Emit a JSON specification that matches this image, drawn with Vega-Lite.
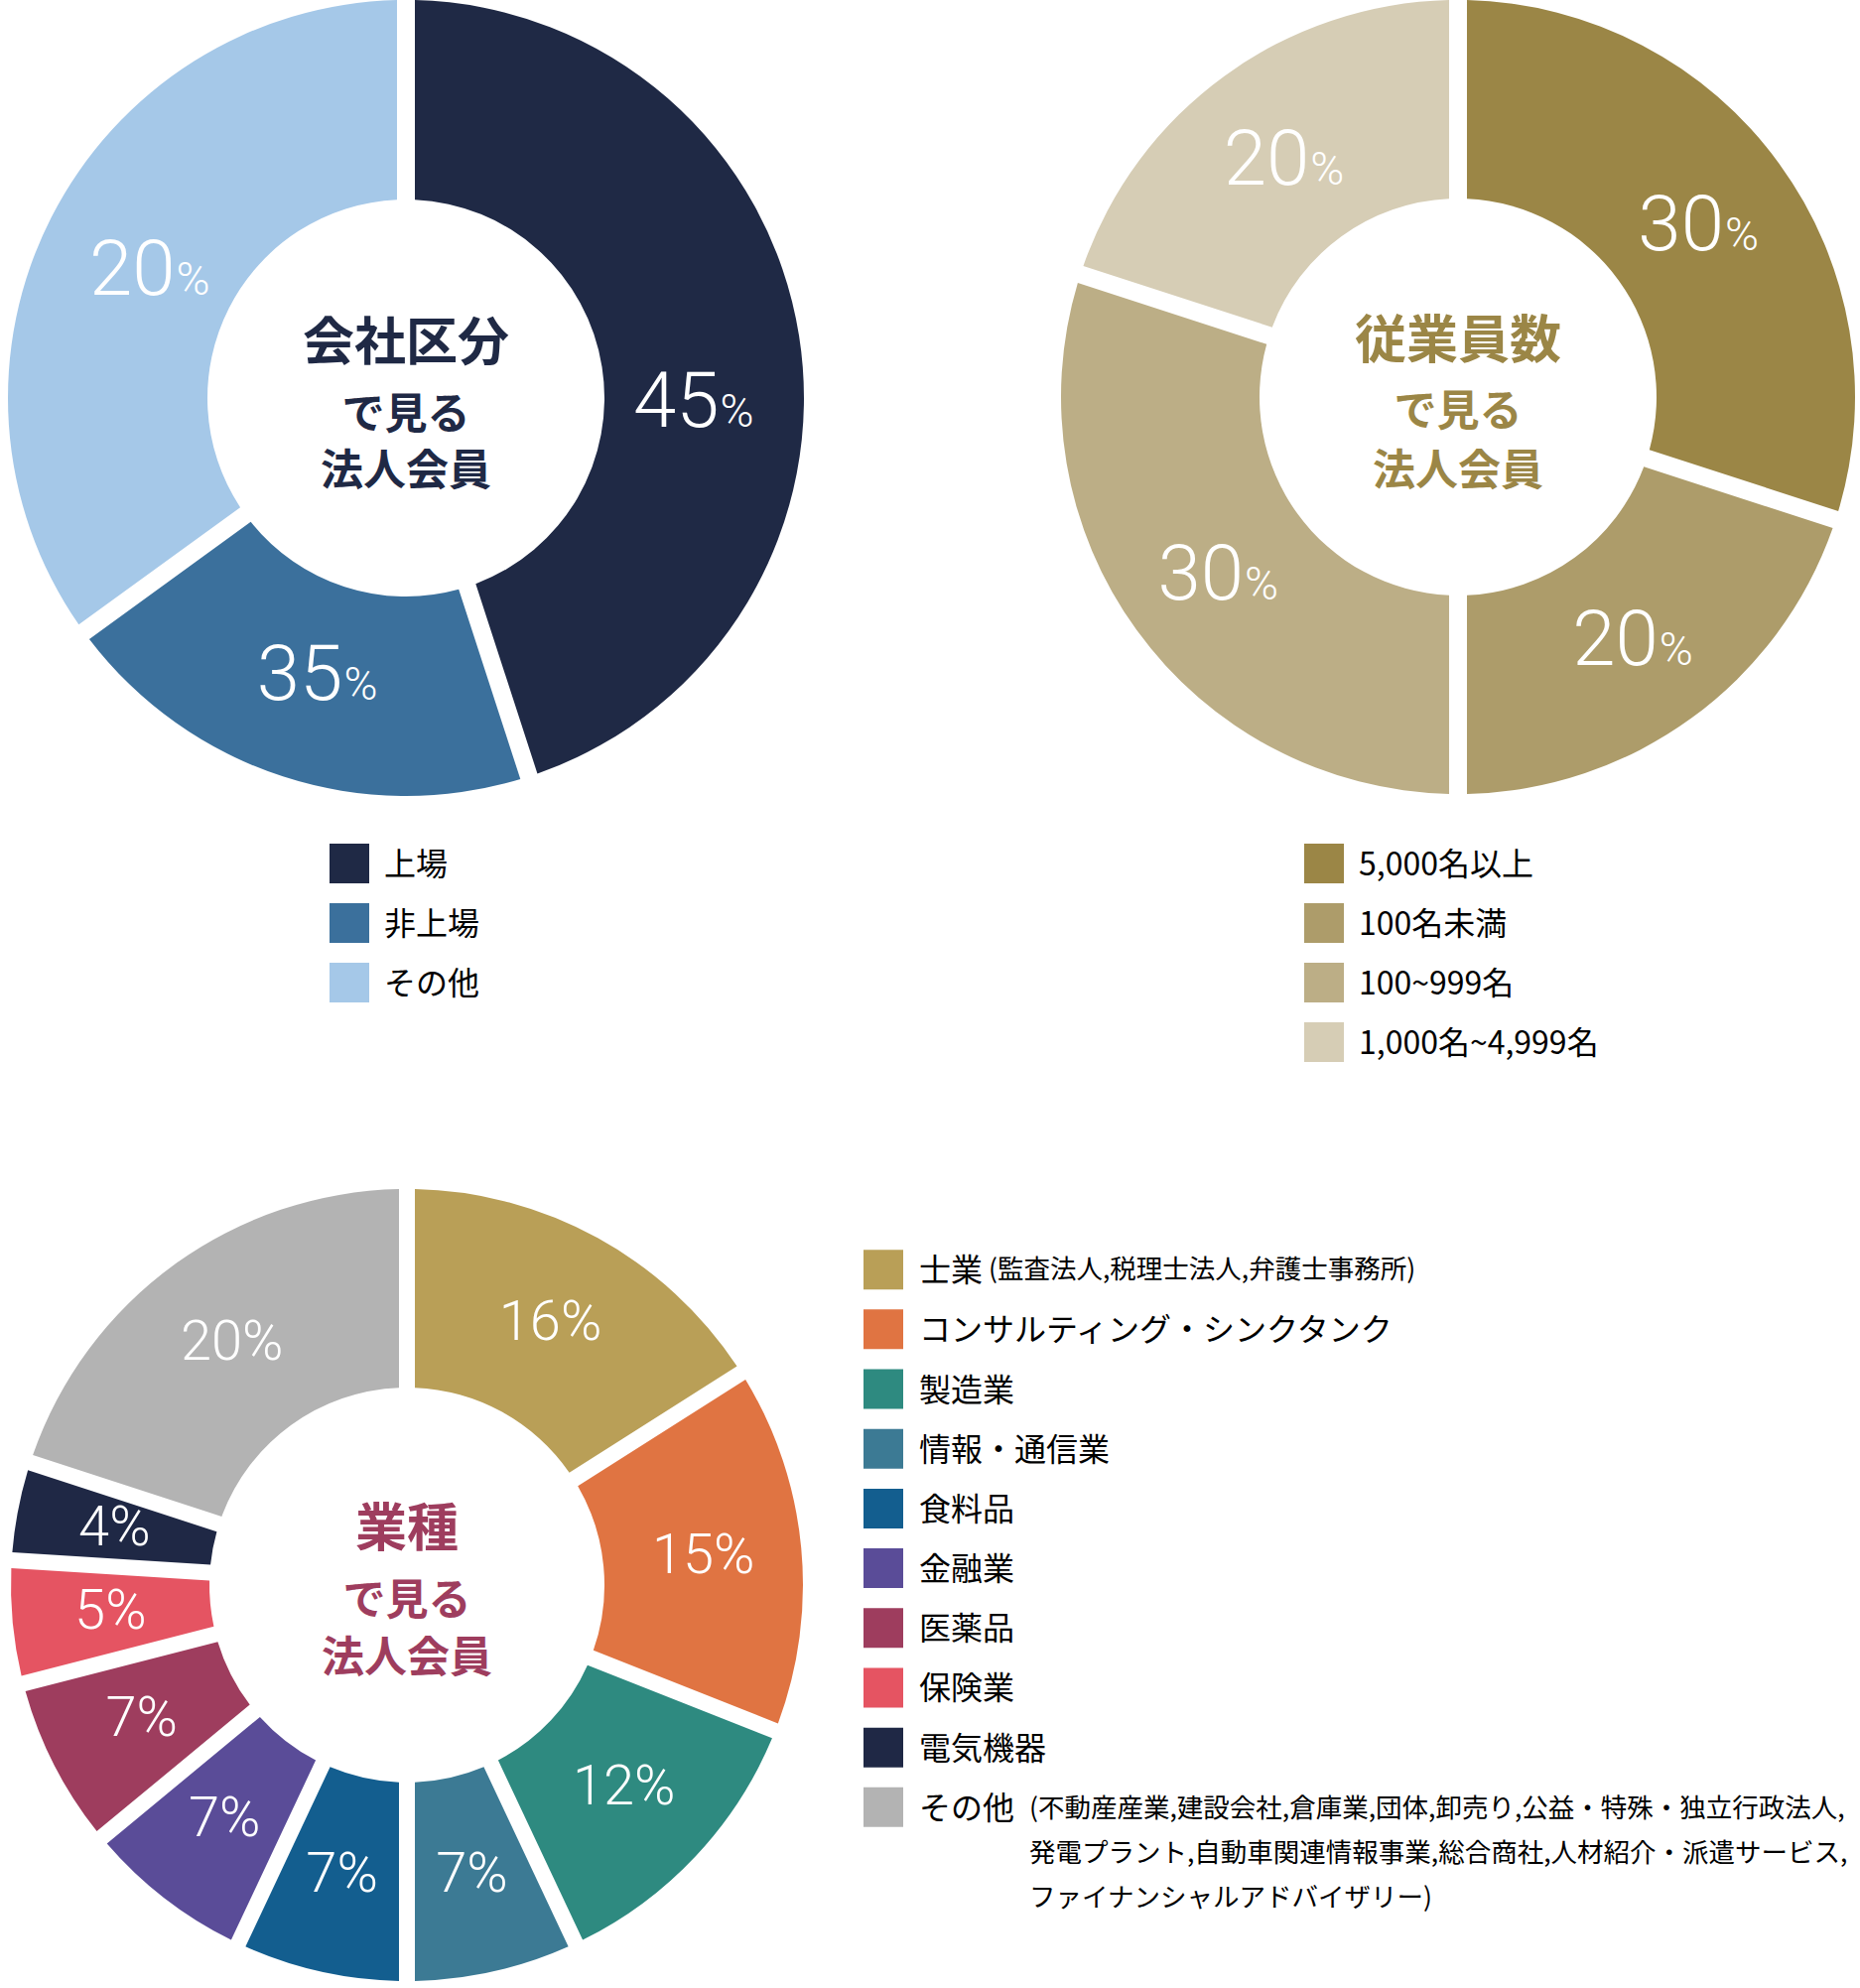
{
  "$schema": "https://vega.github.io/schema/vega-lite/v6.json",
  "padding": 0,
  "background": "#ffffff",
  "config": {
    "view": {"stroke": null},
    "font": "Noto Sans CJK JP"
  },
  "datasets": {
    "company": [
      {"idx": 1, "cat": "上場", "share": 45, "pct": "45"},
      {"idx": 2, "cat": "非上場", "share": 20, "pct": "35"},
      {"idx": 3, "cat": "その他", "share": 35, "pct": "20"}
    ],
    "employees": [
      {"idx": 1, "cat": "5,000名以上", "share": 30, "pct": "30"},
      {"idx": 2, "cat": "100名未満", "share": 20, "pct": "20"},
      {"idx": 3, "cat": "100~999名", "share": 30, "pct": "30"},
      {"idx": 4, "cat": "1,000名~4,999名", "share": 20, "pct": "20"}
    ],
    "industry": [
      {"idx": 1, "cat": "士業", "share": 16, "label": "16%", "note": "(監査法人,税理士法人,弁護士事務所)"},
      {"idx": 2, "cat": "コンサルティング・シンクタンク", "share": 15, "label": "15%", "note": ""},
      {"idx": 3, "cat": "製造業", "share": 12, "label": "12%", "note": ""},
      {"idx": 4, "cat": "情報・通信業", "share": 7, "label": "7%", "note": ""},
      {"idx": 5, "cat": "食料品", "share": 7, "label": "7%", "note": ""},
      {"idx": 6, "cat": "金融業", "share": 7, "label": "7%", "note": ""},
      {"idx": 7, "cat": "医薬品", "share": 7, "label": "7%", "note": ""},
      {"idx": 8, "cat": "保険業", "share": 5, "label": "5%", "note": ""},
      {"idx": 9, "cat": "電気機器", "share": 4, "label": "4%", "note": ""},
      {"idx": 10, "cat": "その他", "share": 20, "label": "20%", "note": "(不動産産業,建設会社,倉庫業,団体,卸売り,公益・特殊・独立行政法人,\n発電プラント,自動車関連情報事業,総合商社,人材紹介・派遣サービス,\nファイナンシャルアドバイザリー)"}
    ]
  },
  "spacing": 118,
  "resolve": {"scale": {"color": "independent", "theta": "independent"}},
  "vconcat": [
    {
      "spacing": 246,
      "resolve": {"scale": {"color": "independent", "theta": "independent"}},
      "hconcat": [
        {
          "spacing": 38,
          "vconcat": [
            {
              "width": 818,
              "height": 802,
              "data": {"name": "company"},
              "layer": [
                {
                  "mark": {"type": "arc", "innerRadius": 200, "outerRadius": 401, "padAngle": 0.0402},
                  "encoding": {
                    "theta": {"field": "share", "type": "quantitative", "stack": true},
                    "order": {"field": "idx", "type": "quantitative"},
                    "color": {"field": "cat", "type": "nominal", "legend": null,
                      "scale": {"domain": ["上場", "非上場", "その他"], "range": ["#1f2945", "#3b709c", "#a5c8e8"]}}
                  }
                },
                {
                  "mark": {"type": "text", "radius": 290, "align": "right", "baseline": "alphabetic", "dx": 26, "dy": 28, "fontSize": 78, "fontWeight": 300, "font": "Roboto", "fill": "#ffffff"},
                  "encoding": {
                    "theta": {"field": "share", "type": "quantitative", "stack": true},
                    "order": {"field": "idx", "type": "quantitative"},
                    "detail": {"field": "cat", "type": "nominal"},
                    "text": {"field": "pct", "type": "nominal"},
                    "opacity": {"condition": {"test": "datum.idx == 1", "value": 0}, "value": 1}
                  }
                },
                {
                  "mark": {"type": "text", "radius": 290, "align": "left", "baseline": "alphabetic", "dx": 27, "dy": 28, "fontSize": 46, "fontWeight": 300, "font": "Roboto", "fill": "#ffffff"},
                  "encoding": {
                    "theta": {"field": "share", "type": "quantitative", "stack": true},
                    "order": {"field": "idx", "type": "quantitative"},
                    "detail": {"field": "cat", "type": "nominal"},
                    "text": {"value": "%"},
                    "opacity": {"condition": {"test": "datum.idx == 1", "value": 0}, "value": 1}
                  }
                },
                {
                  "mark": {"type": "text", "radius": 290, "align": "right", "baseline": "alphabetic", "dx": 29, "dy": 74.5, "fontSize": 78, "fontWeight": 300, "font": "Roboto", "fill": "#ffffff"},
                  "encoding": {
                    "theta": {"field": "share", "type": "quantitative", "stack": true},
                    "order": {"field": "idx", "type": "quantitative"},
                    "detail": {"field": "cat", "type": "nominal"},
                    "text": {"field": "pct", "type": "nominal"},
                    "opacity": {"condition": {"test": "datum.idx == 1", "value": 1}, "value": 0}
                  }
                },
                {
                  "mark": {"type": "text", "radius": 290, "align": "left", "baseline": "alphabetic", "dx": 30, "dy": 74.5, "fontSize": 46, "fontWeight": 300, "font": "Roboto", "fill": "#ffffff"},
                  "encoding": {
                    "theta": {"field": "share", "type": "quantitative", "stack": true},
                    "order": {"field": "idx", "type": "quantitative"},
                    "detail": {"field": "cat", "type": "nominal"},
                    "text": {"value": "%"},
                    "opacity": {"condition": {"test": "datum.idx == 1", "value": 1}, "value": 0}
                  }
                },
                {
                  "data": {"values": [{"t1": "会社区分", "t2": "で見る", "t3": "法人会員"}]},
                  "layer": [
                    {"mark": {"type": "text", "fontSize": 52, "fontWeight": "bold", "fill": "#1f2945", "baseline": "middle", "dy": -54}, "encoding": {"text": {"field": "t1", "type": "nominal"}}},
                    {"mark": {"type": "text", "fontSize": 43, "fontWeight": "bold", "fill": "#1f2945", "baseline": "middle", "dy": 18}, "encoding": {"text": {"field": "t2", "type": "nominal"}}},
                    {"mark": {"type": "text", "fontSize": 43, "fontWeight": "bold", "fill": "#1f2945", "baseline": "middle", "dy": 75}, "encoding": {"text": {"field": "t3", "type": "nominal"}}}
                  ]
                }
              ]
            },
            {
              "width": 704,
              "height": 180,
              "data": {"name": "company"},
              "encoding": {
                "y": {"field": "cat", "type": "nominal", "sort": ["上場", "非上場", "その他"], "axis": null, "scale": {"type": "point", "padding": 0.5}}
              },
              "layer": [
                {
                  "mark": {"type": "point", "shape": "square", "filled": true, "size": 1600, "opacity": 1},
                  "encoding": {
                    "color": {"field": "cat", "type": "nominal", "legend": null,
                      "scale": {"domain": ["上場", "非上場", "その他"], "range": ["#1f2945", "#3b709c", "#a5c8e8"]}}
                  }
                },
                {
                  "mark": {"type": "text", "align": "left", "baseline": "middle", "dx": 35, "dy": 2, "fontSize": 32, "fill": "#000000"},
                  "encoding": {"text": {"field": "cat", "type": "nominal"}}
                }
              ]
            }
          ]
        },
        {
          "spacing": 40,
          "vconcat": [
            {
              "width": 810,
              "height": 800,
              "data": {"name": "employees"},
              "layer": [
                {
                  "mark": {"type": "arc", "innerRadius": 200, "outerRadius": 400, "padAngle": 0.0402},
                  "encoding": {
                    "theta": {"field": "share", "type": "quantitative", "stack": true},
                    "order": {"field": "idx", "type": "quantitative"},
                    "color": {"field": "cat", "type": "nominal", "legend": null,
                      "scale": {"domain": ["5,000名以上", "100名未満", "100~999名", "1,000名~4,999名"], "range": ["#9b8646", "#ad9c6a", "#bcae86", "#d6cdb5"]}}
                  }
                },
                {
                  "mark": {"type": "text", "radius": 299, "align": "right", "baseline": "alphabetic", "dx": 26, "dy": 28, "fontSize": 78, "fontWeight": 300, "font": "Roboto", "fill": "#ffffff"},
                  "encoding": {
                    "theta": {"field": "share", "type": "quantitative", "stack": true},
                    "order": {"field": "idx", "type": "quantitative"},
                    "detail": {"field": "cat", "type": "nominal"},
                    "text": {"field": "pct", "type": "nominal"}
                  }
                },
                {
                  "mark": {"type": "text", "radius": 299, "align": "left", "baseline": "alphabetic", "dx": 27, "dy": 28, "fontSize": 46, "fontWeight": 300, "font": "Roboto", "fill": "#ffffff"},
                  "encoding": {
                    "theta": {"field": "share", "type": "quantitative", "stack": true},
                    "order": {"field": "idx", "type": "quantitative"},
                    "detail": {"field": "cat", "type": "nominal"},
                    "text": {"value": "%"}
                  }
                },
                {
                  "data": {"values": [{"t1": "従業員数", "t2": "で見る", "t3": "法人会員"}]},
                  "layer": [
                    {"mark": {"type": "text", "fontSize": 52, "fontWeight": "bold", "fill": "#9b8646", "baseline": "middle", "dy": -55}, "encoding": {"text": {"field": "t1", "type": "nominal"}}},
                    {"mark": {"type": "text", "fontSize": 43, "fontWeight": "bold", "fill": "#9b8646", "baseline": "middle", "dy": 16}, "encoding": {"text": {"field": "t2", "type": "nominal"}}},
                    {"mark": {"type": "text", "fontSize": 43, "fontWeight": "bold", "fill": "#9b8646", "baseline": "middle", "dy": 76}, "encoding": {"text": {"field": "t3", "type": "nominal"}}}
                  ]
                }
              ]
            },
            {
              "width": 540,
              "height": 240,
              "data": {"name": "employees"},
              "encoding": {
                "y": {"field": "cat", "type": "nominal", "sort": ["5,000名以上", "100名未満", "100~999名", "1,000名~4,999名"], "axis": null, "scale": {"type": "point", "padding": 0.5}}
              },
              "layer": [
                {
                  "mark": {"type": "point", "shape": "square", "filled": true, "size": 1600, "opacity": 1},
                  "encoding": {
                    "color": {"field": "cat", "type": "nominal", "legend": null,
                      "scale": {"domain": ["5,000名以上", "100名未満", "100~999名", "1,000名~4,999名"], "range": ["#9b8646", "#ad9c6a", "#bcae86", "#d6cdb5"]}}
                  }
                },
                {
                  "mark": {"type": "text", "align": "left", "baseline": "middle", "dx": 35, "dy": 2, "fontSize": 32, "fill": "#000000"},
                  "encoding": {"text": {"field": "cat", "type": "nominal"}}
                }
              ]
            }
          ]
        }
      ]
    },
    {
      "spacing": 0,
      "hconcat": [
        {
          "width": 820,
          "height": 798,
          "data": {"name": "industry"},
          "layer": [
            {
              "mark": {"type": "arc", "innerRadius": 199, "outerRadius": 399, "padAngle": 0.0359},
              "encoding": {
                "theta": {"field": "share", "type": "quantitative", "stack": true},
                "order": {"field": "idx", "type": "quantitative"},
                "color": {"field": "cat", "type": "nominal", "legend": null,
                  "scale": {"domain": ["士業", "コンサルティング・シンクタンク", "製造業", "情報・通信業", "食料品", "金融業", "医薬品", "保険業", "電気機器", "その他"],
                    "range": ["#b99f57", "#e07442", "#2e8a80", "#3c7a94", "#135e8f", "#5a4c98", "#9e3d5e", "#e55462", "#1f2845", "#b3b3b3"]}}
              }
            },
            {
              "mark": {"type": "text", "radius": 300, "align": "center", "baseline": "middle", "dy": -1, "fontSize": 56, "fontWeight": 300, "font": "Roboto", "fill": "#ffffff"},
              "encoding": {
                "theta": {"field": "share", "type": "quantitative", "stack": true},
                "order": {"field": "idx", "type": "quantitative"},
                "detail": {"field": "cat", "type": "nominal"},
                "text": {"field": "label", "type": "nominal"}
              }
            },
            {
              "data": {"values": [{"t1": "業種", "t2": "で見る", "t3": "法人会員"}]},
              "layer": [
                {"mark": {"type": "text", "fontSize": 52, "fontWeight": "bold", "fill": "#9e3d5e", "baseline": "middle", "dy": -55}, "encoding": {"text": {"field": "t1", "type": "nominal"}}},
                {"mark": {"type": "text", "fontSize": 43, "fontWeight": "bold", "fill": "#9e3d5e", "baseline": "middle", "dy": 17}, "encoding": {"text": {"field": "t2", "type": "nominal"}}},
                {"mark": {"type": "text", "fontSize": 43, "fontWeight": "bold", "fill": "#9e3d5e", "baseline": "middle", "dy": 75}, "encoding": {"text": {"field": "t3", "type": "nominal"}}}
              ]
            }
          ]
        },
        {
          "width": 140,
          "height": 662,
          "data": {"name": "industry"},
          "encoding": {
            "y": {"field": "cat", "type": "nominal", "sort": ["士業", "コンサルティング・シンクタンク", "製造業", "情報・通信業", "食料品", "金融業", "医薬品", "保険業", "電気機器", "その他"], "axis": null, "scale": {"type": "point", "padding": 1}}
          },
          "layer": [
            {
              "mark": {"type": "point", "shape": "square", "filled": true, "size": 1600, "opacity": 1, "yOffset": 21},
              "encoding": {
                "color": {"field": "cat", "type": "nominal", "legend": null,
                  "scale": {"domain": ["士業", "コンサルティング・シンクタンク", "製造業", "情報・通信業", "食料品", "金融業", "医薬品", "保険業", "電気機器", "その他"],
                    "range": ["#b99f57", "#e07442", "#2e8a80", "#3c7a94", "#135e8f", "#5a4c98", "#9e3d5e", "#e55462", "#1f2845", "#b3b3b3"]}}
              }
            },
            {
              "mark": {"type": "text", "align": "left", "baseline": "middle", "dx": 36, "dy": 2, "yOffset": 21, "fontSize": 32, "fill": "#000000"},
              "encoding": {"text": {"field": "cat", "type": "nominal"}}
            },
            {
              "transform": [{"filter": "datum.idx == 1"}],
              "mark": {"type": "text", "align": "left", "baseline": "middle", "dx": 106, "dy": 1, "yOffset": 21, "fontSize": 26.5, "fill": "#000000"},
              "encoding": {"text": {"field": "note", "type": "nominal"}}
            },
            {
              "transform": [{"filter": "datum.idx == 10"}],
              "mark": {"type": "text", "align": "left", "baseline": "top", "dx": 147, "dy": -11, "yOffset": 21, "fontSize": 26.5, "lineHeight": 45, "lineBreak": "\n", "fill": "#000000"},
              "encoding": {"text": {"field": "note", "type": "nominal"}}
            }
          ]
        }
      ]
    }
  ]
}
